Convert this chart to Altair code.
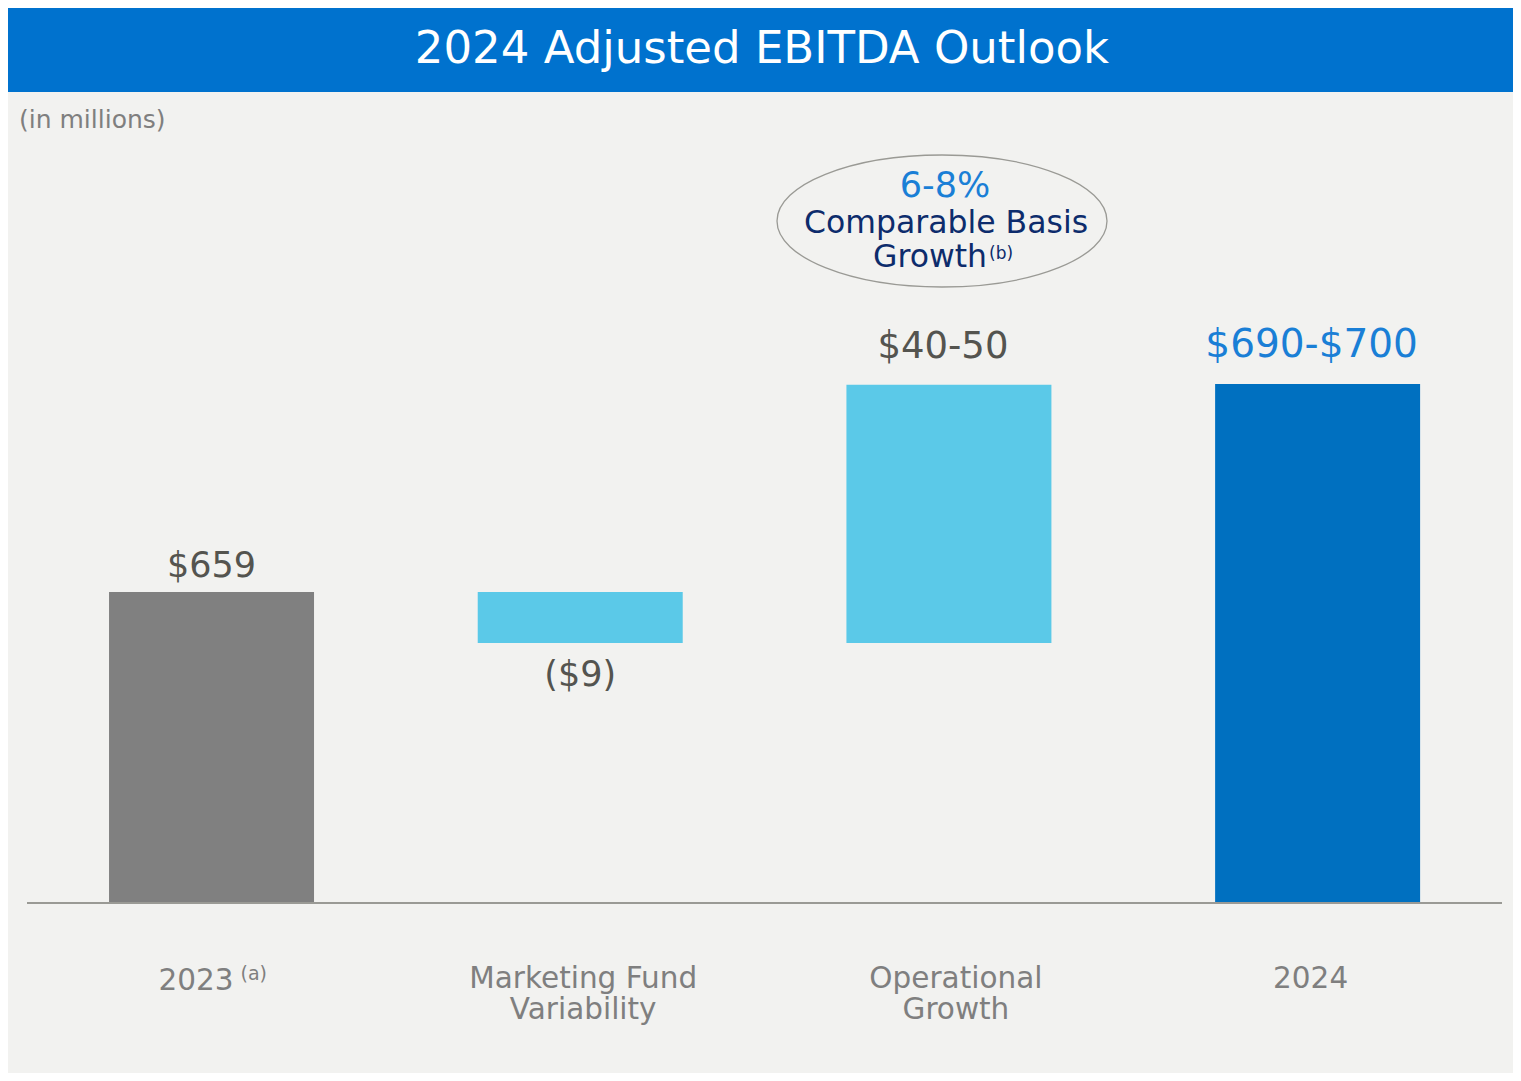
import altair as alt
import pandas as pd

# ---- data (the reference is not drawn to scale; values are
#      expressed in its drawn units, where the 2023 bar equals 659) ----
categories = ["2023", "Marketing Fund Variability", "Operational Growth", "2024"]
category_text = ["2023", "Marketing Fund\nVariability", "Operational\nGrowth", "2024"]
bar_kind = ["start", "change", "change", "end"]
bar_bottom = [0, 551, 551, 0]
bar_top = [659, 659, 1098, 1100]
value_labels = ["$659", "($9)", "$40-50", "$690-$700"]

title_text = "2024 Adjusted EBITDA Outlook"
unit_text = "(in millions)"
callout_pct = "6-8%"
callout_line1 = "Comparable Basis"
callout_line2 = "Growth"
callout_note = "(b)"
note_2023 = "(a)"

df = pd.DataFrame({
    "category": categories,
    "cat_label": category_text,
    "kind": bar_kind,
    "bottom": bar_bottom,
    "top": bar_top,
    "label": value_labels,
})

FONT = "DejaVu Sans"
BG = "#F2F2F0"
GRAY_BAR = "#808080"
LIGHT_BLUE = "#5BC9E8"
DARK_BLUE = "#0070C0"
TITLE_BLUE = "#0072CE"
VALUE_GRAY = "#54544F"
CAT_GRAY = "#7F7F7F"
ACCENT_BLUE = "#1A7FD6"
NAVY = "#0D2C6C"

W, H = 1505, 1065

x_enc = alt.X(
    "category:N",
    sort=categories,
    scale=alt.Scale(domain=categories, paddingInner=0.444, paddingOuter=0.263, align=0.521),
    axis=None,
)
y_scale = alt.Scale(domain=[0, 1896.6], range=[895, 0], nice=False, zero=False)

base = alt.Chart(df)

bars = base.mark_bar().encode(
    x=x_enc,
    y=alt.Y("top:Q", scale=y_scale, axis=None),
    y2="bottom:Q",
    color=alt.Color(
        "kind:N",
        scale=alt.Scale(domain=["start", "change", "end"], range=[GRAY_BAR, LIGHT_BLUE, DARK_BLUE]),
        legend=None,
    ),
)

# value labels
label_style = {
    "2023": dict(field="top", dy=-15, dx=0, color=VALUE_GRAY, size=35),
    "Marketing Fund Variability": dict(field="bottom", dy=43, dx=0, color=VALUE_GRAY, size=35),
    "Operational Growth": dict(field="top", dy=-27, dx=-6, color=VALUE_GRAY, size=37),
    "2024": dict(field="top", dy=-27, dx=-6, color=ACCENT_BLUE, size=39),
}
label_layers = []
for cat in categories:
    st = label_style[cat]
    label_layers.append(
        base.transform_filter(alt.datum.category == cat)
        .mark_text(font=FONT, fontSize=st["size"], color=st["color"], baseline="alphabetic",
                   align="center", dy=st["dy"], dx=st["dx"])
        .encode(x=x_enc, y=alt.Y(f"{st['field']}:Q", scale=y_scale, axis=None), text="label:N")
    )

# category labels
cat_dx = {"Marketing Fund Variability": 3, "Operational Growth": 7, "2024": -7}
cat_layers = []
for cat, dx in cat_dx.items():
    cat_layers.append(
        base.transform_filter(alt.datum.category == cat)
        .mark_text(font=FONT, fontSize=29.5, color=CAT_GRAY, baseline="alphabetic", align="center",
                   lineBreak="\n", lineHeight=31, dx=dx)
        .encode(x=x_enc, y=alt.value(980), text="cat_label:N")
    )
cat_2023 = (
    base.transform_filter(alt.datum.category == "2023")
    .mark_text(font=FONT, fontSize=29.5, color=CAT_GRAY, baseline="alphabetic", align="right", dx=22)
    .encode(x=x_enc, y=alt.value(982), text="cat_label:N")
)
cat_2023_note = (
    base.transform_filter(alt.datum.category == "2023")
    .mark_text(font=FONT, fontSize=19, color=CAT_GRAY, baseline="alphabetic", align="left", dx=29)
    .encode(x=x_enc, y=alt.value(972), text=alt.value(note_2023))
)

one = alt.Chart(pd.DataFrame({"zero": [0]}))

title_bar = one.mark_rect(color=TITLE_BLUE).encode(
    x=alt.value(0), x2=alt.value(W), y=alt.value(0), y2=alt.value(84)
)
title = one.mark_text(font=FONT, fontSize=45, color="white", baseline="alphabetic", align="center").encode(
    x=alt.value(754), y=alt.value(55), text=alt.value(title_text)
)
unit = one.mark_text(font=FONT, fontSize=25, color=CAT_GRAY, baseline="alphabetic", align="left").encode(
    x=alt.value(11), y=alt.value(120), text=alt.value(unit_text)
)

axis_line = one.mark_rule(color="#9A9A95", strokeWidth=2).encode(
    x=alt.value(19), x2=alt.value(1494), y=alt.Y("zero:Q", scale=y_scale, axis=None)
)

ellipse_path = ("M -1 0 C -1 -0.2209 -0.5523 -0.4 0 -0.4 C 0.5523 -0.4 1 -0.2209 1 0 "
                "C 1 0.2209 0.5523 0.4 0 0.4 C -0.5523 0.4 -1 0.2209 -1 0 Z")
ellipse = one.mark_point(shape=ellipse_path, size=330 * 330, filled=False, stroke="#9A9A95",
                         strokeWidth=1.3, opacity=1).encode(
    x=alt.value(934), y=alt.value(213)
)
c_pct = one.mark_text(font=FONT, fontSize=35, color=ACCENT_BLUE, baseline="alphabetic", align="center").encode(
    x=alt.value(937), y=alt.value(189), text=alt.value(callout_pct)
)
c_l1 = one.mark_text(font=FONT, fontSize=31.5, color=NAVY, baseline="alphabetic", align="center").encode(
    x=alt.value(938), y=alt.value(225), text=alt.value(callout_line1)
)
c_l2 = one.mark_text(font=FONT, fontSize=31.5, color=NAVY, baseline="alphabetic", align="right").encode(
    x=alt.value(979), y=alt.value(259), text=alt.value(callout_line2)
)
c_note = one.mark_text(font=FONT, fontSize=17, color=NAVY, baseline="alphabetic", align="left").encode(
    x=alt.value(981), y=alt.value(251), text=alt.value(callout_note)
)

chart = (
    alt.layer(title_bar, title, unit, bars, axis_line, *label_layers, *cat_layers, cat_2023,
              cat_2023_note, ellipse, c_pct, c_l1, c_l2, c_note)
    .properties(width=W, height=H, background=BG, padding=0,
                autosize=alt.AutoSizeParams(type="none"))
    .configure_view(stroke=None)
)

chart.save("out.html", embed_options={"renderer": "svg", "actions": False})
